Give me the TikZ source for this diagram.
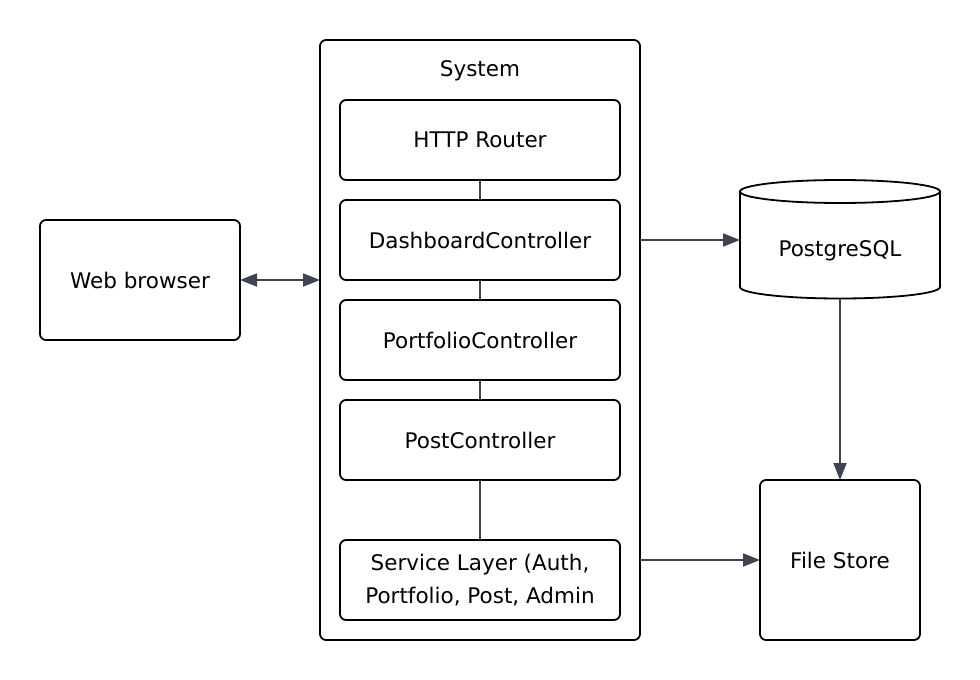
\documentclass[tikz,border=0pt]{standalone}
\usepackage{fontspec}
\setmainfont{DejaVu Sans}
\usetikzlibrary{arrows.meta}
\definecolor{linkgray}{HTML}{3D4350}

\begin{document}
\begin{tikzpicture}[x=1pt, y=1pt,
    box/.style={draw=black, line width=1.8pt, rounded corners=6pt,
        minimum width=280pt, minimum height=80pt, inner sep=0pt, outer sep=0pt},
    link/.style={draw=linkgray, line width=1.8pt},
    tip/.style={-{Triangle[length=17pt, width=13pt]}},
    font=\fontsize{21.5}{33}\selectfont]

    \useasboundingbox (0,0) rectangle (980,-680);

    % system
    \node[box, minimum width=320pt, minimum height=600pt] (sys) at (480,-340) {};
    \node (systitle) at (480,-71) {System};

    \node[box] (router) at (480,-140) {HTTP Router};
    \node[box] (dash) at (480,-240) {DashboardController};
    \node[box] (portf) at (480,-340) {PortfolioController};
    \node[box] (post) at (480,-440) {PostController};
    \node[box, align=center] (service) at (480,-580) {Service Layer (Auth,\\Portfolio, Post, Admin};

    \draw[link] (router) -- (dash);
    \draw[link] (dash) -- (portf);
    \draw[link] (portf) -- (post);
    \draw[link] (post) -- (service);

    % outside
    \node[box, minimum width=200pt, minimum height=120pt] (web) at (140,-280) {Web browser};
    \node[box, minimum width=160pt, minimum height=160pt] (files) at (840,-560) {File Store};

    % database
    \draw[line width=1.8pt] (740,-191.5) -- (740,-287)
        arc[start angle=180, end angle=360, x radius=100pt, y radius=11.5pt] -- (940,-191.5);
    \draw[line width=1.8pt] (840,-191.5) ellipse [x radius=100pt, y radius=11.5pt];
    \node[minimum width=200pt, inner sep=0pt, outer sep=0pt] (db) at (840,-251) {PostgreSQL};
    \coordinate (dbbot) at (840,-298.5);

    \draw[link, {Triangle[length=17pt, width=13pt]}-{Triangle[length=17pt, width=13pt]}]
        (web.east) -- (web.east -| sys.west);
    \draw[link, tip] (dash.east -| sys.east) -- (dash.east -| db.west);
    \draw[link, tip] (dbbot) -- (files.north);
    \draw[link, tip] (files.west -| sys.east) -- (files.west);
\end{tikzpicture}
\end{document}
